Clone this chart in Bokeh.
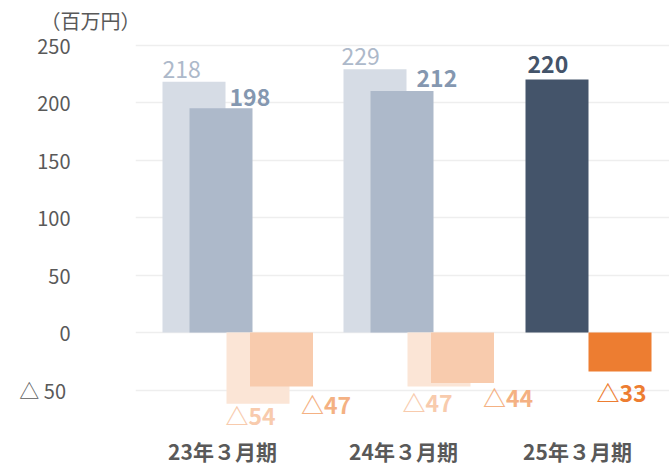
from bokeh.plotting import figure
from bokeh.models import FixedTicker, Range1d, ColumnDataSource
from bokeh.core.properties import value
from bokeh.embed import file_html
from bokeh.resources import INLINE

# ---------------- data ----------------
categories = ["23年３月期", "24年３月期", "25年３月期"]
plan_profit = [218, 229]          # light blue-grey bars
actual_profit = [195, 210]        # mid blue-grey bars
current_profit = [220]            # navy bar (25年３月期)
plan_loss = [-62, -47]            # light peach bars
actual_loss = [-47, -44]          # peach bars
current_loss = [-34]              # orange bar (25年３月期)

plan_profit_labels = ["218", "229"]
actual_profit_labels = ["198", "212"]
current_profit_labels = ["220"]
plan_loss_labels = ["△54", "△47"]
actual_loss_labels = ["△47", "△44"]
current_loss_labels = ["△33"]

y_ticks = [-50, 0, 50, 100, 150, 200, 250]
y_tick_labels = ["△  50", "0", "50", "100", "150", "200", "250"]
unit_label = "（百万円）"

# ---------------- styling / layout ----------------
FONT = "Noto Sans CJK JP"
PX = 181.0                 # pixels per category step
YPX = 1.15                 # pixels per value unit
BAR_W = 63 / PX
SLOT = {"plan": -28.5 / PX, "actual": -1.5 / PX, "ploss": 35.5 / PX, "aloss": 59 / PX}

p = figure(width=669, height=466, output_backend="svg", toolbar_location=None,
           x_range=Range1d((135 - 222) / PX, (669 - 222) / PX),
           y_range=Range1d(-(466 - 332) / YPX, (332 - 30) / YPX),
           min_border_left=135, min_border_right=0, min_border_top=30,
           min_border_bottom=0, title=unit_label)
p.title.text_font = FONT
p.title.text_font_size = "20px"
p.title.text_font_style = "normal"
p.title.text_color = "#595959"
p.title.align = "left"
p.title.offset = -95
p.title.standoff = -8

p.outline_line_color = None
p.background_fill_color = "white"
p.border_fill_color = "white"
p.xgrid.grid_line_color = None
p.ygrid.grid_line_color = "#eeeeee"
p.ygrid.grid_line_width = 1.5
p.ygrid.ticker = FixedTicker(ticks=y_ticks)

# y axis
p.yaxis.ticker = FixedTicker(ticks=y_ticks)
p.yaxis.major_label_overrides = {t: s for t, s in zip(y_ticks, y_tick_labels)}
p.yaxis.axis_line_color = None
p.yaxis.major_tick_line_color = None
p.yaxis.minor_tick_line_color = None
p.yaxis.major_label_standoff = 59
p.yaxis.major_label_text_font = FONT
p.yaxis.major_label_text_font_size = "20px"
p.yaxis.major_label_text_color = "#595959"

# x axis: category names drawn as text under the bars
p.xaxis.visible = False
cat_x = list(range(len(categories)))
cat_src = ColumnDataSource(dict(x=cat_x, y=[-(450 - 332) / YPX] * len(categories),
                                t=categories, dx=[0, 0, -7]))
p.text(x="x", y="y", text="t", source=cat_src, x_offset="dx", text_font=value(FONT),
       text_font_size="21px", text_font_style="bold", text_color="#595959",
       text_align="center", text_baseline="middle")


def bars(xs, tops, color):
    p.vbar(x=xs, top=tops, bottom=0, width=BAR_W, fill_color=color, line_color=None)


def labels(xs, ys, texts, color, weight, dx, dy):
    src = ColumnDataSource(dict(x=xs, y=ys, t=texts, dx=dx, dy=dy))
    p.text(x="x", y="y", text="t", source=src, x_offset="dx", y_offset="dy",
           text_font=value(FONT), text_font_size="23px", text_font_style=weight,
           text_color=color, text_align="left", text_baseline="middle")


past = [0, 1]
cur = [2]
x_plan = [c + SLOT["plan"] for c in past]
x_act = [c + SLOT["actual"] for c in past]
x_ploss = [c + SLOT["ploss"] for c in past]
x_aloss = [c + SLOT["aloss"] for c in past]
x_cur = [c + SLOT["plan"] + 1 / PX for c in cur]
x_curloss = [c + SLOT["ploss"] for c in cur]

bars(x_plan, plan_profit, "#d6dce5")
bars(x_act, actual_profit, "#adb9ca")
bars(x_cur, current_profit, "#44546a")
bars(x_ploss, plan_loss, "#fbe5d6")
bars(x_aloss, actual_loss, "#f8cbad")
bars(x_curloss, current_loss, "#ed7d31")

half = -31.5
labels(x_plan, plan_profit, plan_profit_labels, "#adb9ca", "normal",
       [half + 0, half - 2], [-12, -13])
labels(x_act, actual_profit, actual_profit_labels, "#8497b0", "bold",
       [half + 40, half + 46], [-11, -13])
labels(x_cur, current_profit, current_profit_labels, "#44546a", "bold",
       [half + 2], [-15])
labels(x_ploss, plan_loss, plan_loss_labels, "#f8cbad", "bold",
       [half - 1, half - 5], [11, 15])
labels(x_aloss, actual_loss, actual_loss_labels, "#f4b183", "bold",
       [half + 51, half + 52], [17, 14])
labels(x_curloss, current_loss, current_loss_labels, "#ed7d31", "bold",
       [half + 8], [20])

open("out.html", "w").write(file_html(p, INLINE))
